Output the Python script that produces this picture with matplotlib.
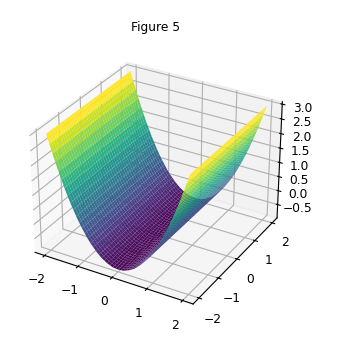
import numpy as np
import matplotlib
matplotlib.use('Agg')
import matplotlib.pyplot as plt

x_vals = [-2.00, -1.92, -1.84, -1.76, -1.68, -1.60, -1.52, -1.44, -1.36, -1.28,
          -1.20, -1.12, -1.04, -0.96, -0.88, -0.80, -0.72, -0.64, -0.56, -0.48,
          -0.40, -0.32, -0.24, -0.16, -0.08, 0.00, 0.08, 0.16, 0.24, 0.32,
          0.40, 0.48, 0.56, 0.64, 0.72, 0.80, 0.88, 0.96, 1.04, 1.12,
          1.20, 1.28, 1.36, 1.44, 1.52, 1.60, 1.68, 1.76, 1.84, 1.92, 2.00]
y_vals = [-2.0, -1.9, -1.8, -1.7, -1.6, -1.5, -1.4, -1.3, -1.2, -1.1, -1.0,
          -0.9, -0.8, -0.7, -0.6, -0.5, -0.4, -0.3, -0.2, -0.1, 0.0,
          0.1, 0.2, 0.3, 0.4, 0.5, 0.6, 0.7, 0.8, 0.9, 1.0,
          1.1, 1.2, 1.3, 1.4, 1.5, 1.6, 1.7, 1.8, 1.9, 2.0]
# height of the trough read along x, same for every y
z_profile = [3.00, 2.69, 2.40, 2.12, 1.85, 1.60, 1.35, 1.12, 0.90, 0.70,
             0.50, 0.32, 0.15, 0.00, -0.15, -0.28, -0.39, -0.50, -0.59, -0.68,
             -0.74, -0.80, -0.84, -0.88, -0.89, -0.90, -0.89, -0.88, -0.84, -0.80,
             -0.74, -0.68, -0.59, -0.50, -0.39, -0.28, -0.15, 0.00, 0.15, 0.32,
             0.50, 0.70, 0.90, 1.12, 1.35, 1.60, 1.85, 2.12, 2.40, 2.69, 3.00]
z_ticks = [-0.5, 0.0, 0.5, 1.0, 1.5, 2.0, 2.5, 3.0]

X, Y = np.meshgrid(x_vals, y_vals)
Z = np.tile(z_profile, (len(y_vals), 1))

fig = plt.figure(figsize=(3.48, 3.43), dpi=100)
ax = fig.add_subplot(111, projection='3d')
ax.set_position([0.0115, 0.062, 0.865, 0.82])
ax.plot_surface(X, Y, Z, cmap='viridis', rstride=1, cstride=1, linewidth=0, alpha=0.97)
ax.set_xticks([-2, -1, 0, 1, 2])
ax.set_yticks([-2, -1, 0, 1, 2])
ax.set_zticks(z_ticks)
ax.tick_params(labelsize=8.8, pad=1)
fig.text(0.448, 0.91, 'Figure 5', ha='center', va='baseline', fontsize=8.8)
fig.savefig('out.png', dpi=100)
